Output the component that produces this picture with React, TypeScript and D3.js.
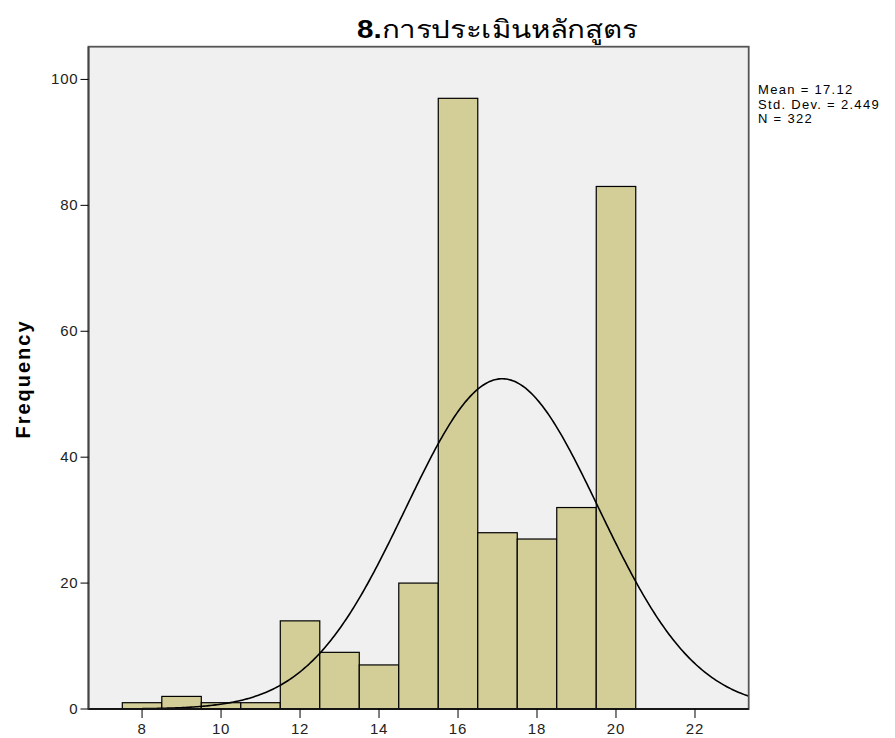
import React from "react";
import * as d3 from "d3";

const binCenters = [8, 9, 10, 11, 12, 13, 14, 15, 16, 17, 18, 19, 20];
const frequencies = [1, 2, 1, 1, 14, 9, 7, 20, 97, 28, 27, 32, 83];
const yTicks = [0, 20, 40, 60, 80, 100];
const xTicks = [8, 10, 12, 14, 16, 18, 20, 22];
const statLines = ["Mean = 17.12", "Std. Dev. = 2.449", "N = 322"];
const titleNum = "8.";
const titleText = "การประเมินหลักสูตร";
const mean = 17.12;
const sd = 2.449;
const n = 322;

export default function App() {
  const W = 895, H = 738;
  const left = 88.5, right = 748.7, top = 46.7, bottom = 709;
  const x = d3.scaleLinear().domain([6.644, 23.36]).range([left, right]);
  const y = d3.scaleLinear().domain([0, 105.2]).range([bottom, top]);

  const pdf = (v: number) => (n / (sd * Math.sqrt(2 * Math.PI))) * Math.exp(-0.5 * ((v - mean) / sd) ** 2);
  const pts = d3.range(0, 401).map((i) => {
    const v = 6.644 + (i / 400) * (23.36 - 6.644);
    return [v, pdf(v)] as [number, number];
  });
  const line = d3.line<[number, number]>().x((d) => x(d[0])).y((d) => y(d[1]));

  const font = "'Liberation Sans', Arial, sans-serif";

  return (
    <svg width={W} height={H} style={{ position: "absolute", left: 0, top: 0, background: "#fff" }}>
      <defs>
        <clipPath id="plotclip">
          <rect x={left} y={top} width={right - left} height={bottom - top} />
        </clipPath>
      </defs>
      <text x={357} y={38} fontFamily={font} fontSize={25} fill="#000" textLength={280} lengthAdjust="spacingAndGlyphs">
        <tspan fontWeight="bold">{titleNum}</tspan>
        <tspan fontWeight="normal">{titleText}</tspan>
      </text>
      <rect x={left} y={top} width={right - left} height={bottom - top} fill="#f0f0f0" />
      {binCenters.map((c, i) => (
        <rect
          key={c}
          x={x(c - 0.5)}
          y={y(frequencies[i])}
          width={x(c + 0.5) - x(c - 0.5)}
          height={y(0) - y(frequencies[i])}
          fill="#d3ce98"
          stroke="#000"
          strokeWidth={1.2}
        />
      ))}
      <path d={line(pts) || ""} fill="none" stroke="#000" strokeWidth={1.6} clipPath="url(#plotclip)" />
      <rect x={left} y={top} width={right - left} height={bottom - top} fill="none" stroke="#555" strokeWidth={1.8} />
      <line x1={left} x2={right} y1={bottom} y2={bottom} stroke="#000" strokeWidth={1.5} />
      <line x1={left} x2={left} y1={top} y2={bottom} stroke="#444" strokeWidth={1.8} />
      {yTicks.map((t) => (
        <g key={t}>
          <line x1={left - 8} x2={left} y1={y(t)} y2={y(t)} stroke="#000" strokeWidth={1} />
          <text x={left - 10} y={y(t) + 5} textAnchor="end" fontFamily={font} fontSize={15} letterSpacing={0.8} fill="#222">
            {t}
          </text>
        </g>
      ))}
      {xTicks.map((t) => (
        <g key={t}>
          <line x1={x(t)} x2={x(t)} y1={bottom} y2={bottom + 9} stroke="#000" strokeWidth={1} />
          <text x={x(t)} y={bottom + 25} textAnchor="middle" fontFamily={font} fontSize={15} letterSpacing={0.8} fill="#222">
            {t}
          </text>
        </g>
      ))}
      <text
        transform={`translate(30, 379) rotate(-90)`}
        textAnchor="middle"
        fontFamily={font}
        fontSize={20}
        fontWeight="bold"
        letterSpacing={2}
        fill="#000"
      >
        Frequency
      </text>
      {statLines.map((s, i) => (
        <text key={s} x={758} y={94 + i * 14.5} fontFamily={font} fontSize={13} letterSpacing={1.3} fill="#000">
          {s}
        </text>
      ))}
    </svg>
  );
}
